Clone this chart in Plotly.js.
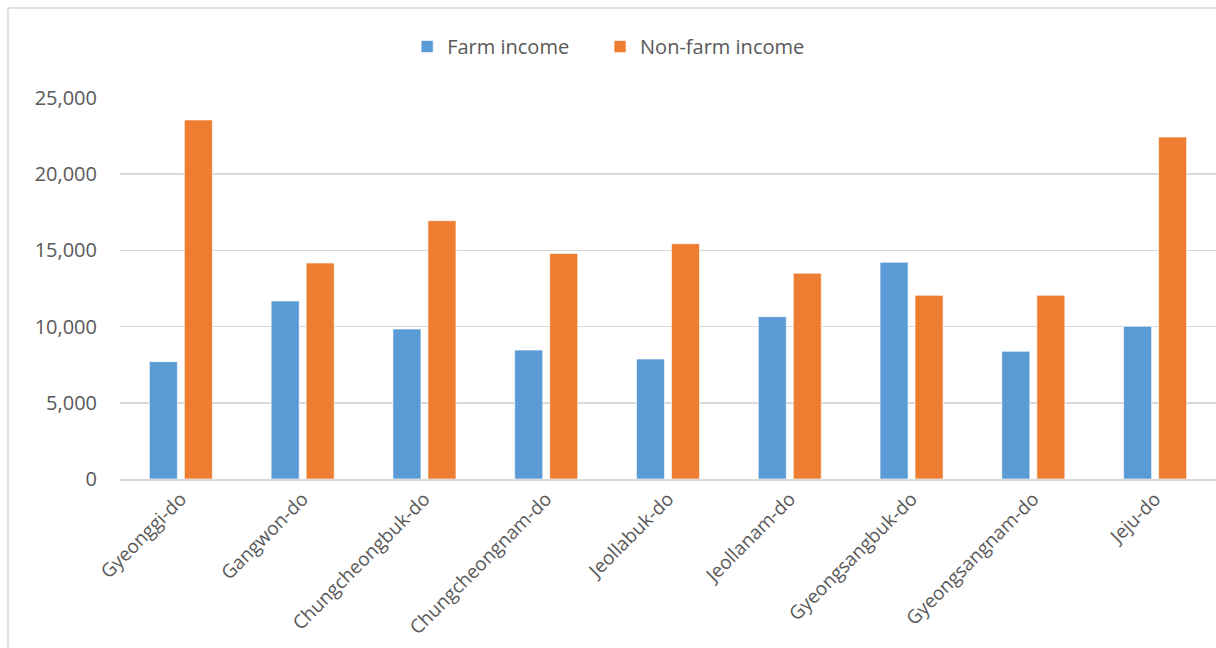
<!DOCTYPE html>
<html>
<head>
<meta charset="utf-8">
<script src="https://cdn.plot.ly/plotly-3.0.1.min.js"></script>
<style>html,body{margin:0;padding:0;background:#fff;}#chart{width:1216px;height:648px;}</style>
</head>
<body>
<div id="chart"></div>
<script>
const regions = ["Gyeonggi-do","Gangwon-do","Chungcheongbuk-do","Chungcheongnam-do","Jeollabuk-do","Jeollanam-do","Gyeongsangbuk-do","Gyeongsangnam-do","Jeju-do"];
const farmIncome = [7700, 11680, 9840, 8460, 7870, 10650, 14220, 8380, 10020];
const nonFarmIncome = [23560, 14170, 16950, 14790, 15440, 13500, 12050, 12050, 22440];
const seriesNames = ["Farm income", "Non-farm income"];
const yTicks = [0, 5000, 10000, 15000, 20000, 25000];

const font = {family: "Open Sans, Noto Sans, sans-serif", size: 20, color: "#595959"};
const xFont = {family: "Open Sans, Noto Sans, sans-serif", size: 19, color: "#595959"};

const traces = [
  {type: "bar", name: seriesNames[0], x: regions, y: farmIncome, legend: "legend",
   marker: {color: "#5B9BD5", line: {color: "#ffffff", width: 0.6}}, hoverinfo: "x+y"},
  {type: "bar", name: seriesNames[1], x: regions, y: nonFarmIncome, legend: "legend2",
   marker: {color: "#ED7D31", line: {color: "#ffffff", width: 0.6}}, hoverinfo: "x+y"}
];

const legendBase = {orientation: "h", xanchor: "left", y: 1.135, yanchor: "middle", font: font,
                    bgcolor: "rgba(0,0,0,0)"};

const layout = {
  width: 1216, height: 648,
  margin: {l: 120, r: 0, t: 98, b: 169},
  paper_bgcolor: "#ffffff", plot_bgcolor: "#ffffff",
  font: font,
  barmode: "group", bargap: 0.425, bargroupgap: 0.2,
  showlegend: true,
  legend: Object.assign({}, legendBase, {x: 0.262}),
  legend2: Object.assign({}, legendBase, {x: 0.438}),
  xaxis: {type: "category", tickangle: -45, tickfont: xFont, showgrid: false,
          showline: true, linecolor: "#D9D9D9", linewidth: 1.5, ticks: "", zeroline: false},
  yaxis: {range: [0, 25000], tickvals: yTicks, tickformat: ",d", tickfont: font,
          showgrid: true, gridcolor: "#D9D9D9", gridwidth: 1.5, zeroline: false,
          showline: false, ticks: "", ticklabelstandoff: 22},
  shapes: [{type: "rect", xref: "paper", yref: "paper", x0: -0.1022, x1: 1.2, y0: 1.2362, y1: -1,
            line: {color: "#D9D9D9", width: 1.5}, fillcolor: "rgba(0,0,0,0)", layer: "below"}]
};

Plotly.newPlot("chart", traces, layout, {displayModeBar: false, staticPlot: true});
</script>
</body>
</html>
